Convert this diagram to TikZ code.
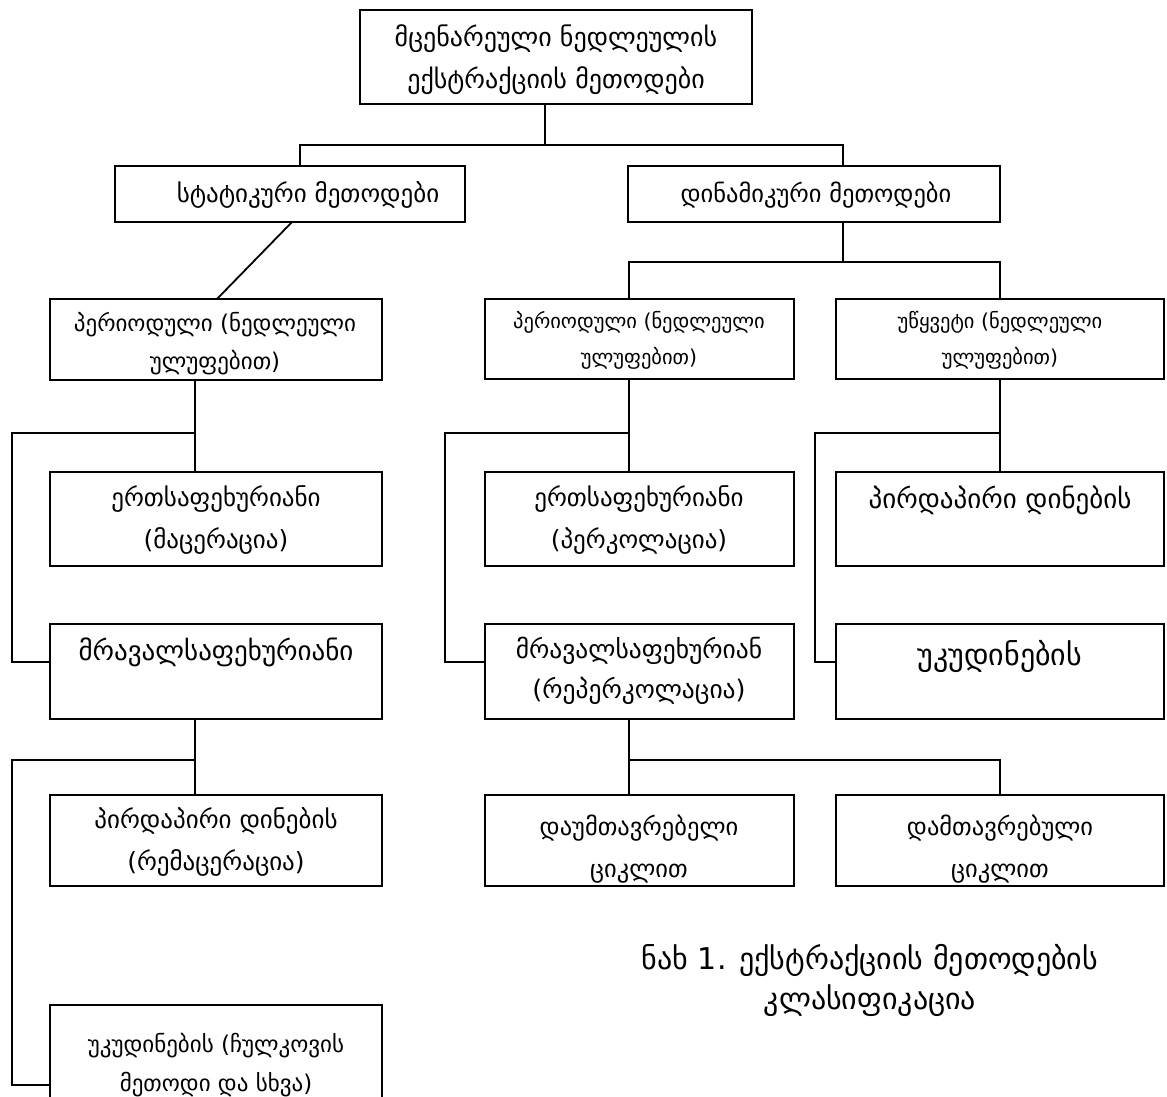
\documentclass[tikz,border=0pt]{standalone}
\usepackage{fontspec}
\setmainfont{DejaVu Sans}
\begin{document}
\begin{tikzpicture}[x=1pt,y=-1pt,
  box/.style={draw, line width=1.8pt, inner sep=0pt, outer sep=0pt},
  conn/.style={line width=1.8pt},
  lbl/.style={inner sep=0pt, anchor=base, font=\fontsize{#1}{#1}\selectfont},
  captxt/.style={inner sep=0pt, anchor=base, font=\fontsize{30}{34}\selectfont}]
\useasboundingbox (0,0) rectangle (1167,1097);
\clip (0,0) rectangle (1167,1097);
\newcommand\mkbox[5]{\node[box, minimum width={(#4-#2)*1pt}, minimum height={(#5-#3)*1pt}] (#1) at ({(#2+#4)/2},{(#3+#5)/2}) {};}
% boxes
\mkbox{top}{360}{10}{752}{104}
\mkbox{stat}{115}{166}{465}{222}
\mkbox{dyn}{628}{166}{1000}{222}
\mkbox{pa}{50}{299}{382}{380}
\mkbox{pb}{485}{299}{794}{379}
\mkbox{pc}{836}{299}{1164}{379}
\mkbox{ea}{50}{472}{382}{566}
\mkbox{eb}{485}{472}{794}{566}
\mkbox{ec}{836}{472}{1164}{566}
\mkbox{ma}{50}{624}{382}{719}
\mkbox{mb}{485}{624}{794}{719}
\mkbox{mc}{836}{624}{1164}{719}
\mkbox{da}{50}{795}{382}{886}
\mkbox{db}{485}{795}{794}{886}
\mkbox{dc}{836}{795}{1164}{886}
\mkbox{ua}{50}{1005}{382}{1102}
% texts
\node[lbl=26] (tt1) at (556,47) {მცენარეული ნედლეულის};
\node[lbl=26] (tt2) at (556,89) {ექსტრაქციის მეთოდები};
\node[lbl=25] (ts) at (308,202) {სტატიკური მეთოდები};
\node[lbl=24.5] (td) at (816,202) {დინამიკური მეთოდები};
\node[lbl=23] (tpa1) at (215,331) {პერიოდული (ნედლეული};
\node[lbl=23] (tpa2) at (215,369) {ულუფებით)};
\node[lbl=20.5] (tpb1) at (639,328) {პერიოდული (ნედლეული};
\node[lbl=20.5] (tpb2) at (639,364) {ულუფებით)};
\node[lbl=20.5] (tpc1) at (1000,328) {უწყვეტი (ნედლეული};
\node[lbl=20.5] (tpc2) at (1000,364) {ულუფებით)};
\node[lbl=25] (tea1) at (216,506) {ერთსაფეხურიანი};
\node[lbl=25] (tea2) at (216,548) {(მაცერაცია)};
\node[lbl=25] (teb1) at (639,506) {ერთსაფეხურიანი};
\node[lbl=25] (teb2) at (639,548) {(პერკოლაცია)};
\node[lbl=27] (tec1) at (1000,508) {პირდაპირი დინების};
\node[lbl=27] (tma1) at (216,660) {მრავალსაფეხურიანი};
\node[lbl=25.5] (tmb1) at (639,658) {მრავალსაფეხურიან};
\node[lbl=25.5] (tmb2) at (639,698) {(რეპერკოლაცია)};
\node[lbl=30] (tmc1) at (1000,665) {უკუდინების};
\node[lbl=25] (tda1) at (216,828) {პირდაპირი დინების};
\node[lbl=25] (tda2) at (216,870) {(რემაცერაცია)};
\node[lbl=24.5] (tdb1) at (639,835) {დაუმთავრებელი};
\node[lbl=24.5] (tdb2) at (639,877) {ციკლით};
\node[lbl=24.5] (tdc1) at (1000,835) {დამთავრებული};
\node[lbl=24.5] (tdc2) at (1000,877) {ციკლით};
\node[lbl=23] (tua1) at (216,1052) {უკუდინების (ჩულკოვის};
\node[lbl=23] (tua2) at (216,1091) {მეთოდი და სხვა)};
\node[captxt] (cap1) at (870,969) {ნახ 1. ექსტრაქციის მეთოდების};
\node[captxt] (cap2) at (870,1009) {კლასიფიკაცია};
% connector coordinates
\coordinate (j0) at (545,145);
\coordinate (js) at (300,145);
\coordinate (jd) at (843,145);
\coordinate (g1) at (292,0);
\coordinate (g2) at (217,0);
\coordinate (k1) at (843,262);
\coordinate (k2) at (629,262);
\coordinate (k3) at (1000,262);
\coordinate (la) at (195,433);
\coordinate (lw) at (12,433);
\coordinate (le) at (12,662);
\coordinate (ma1) at (445,433);
\coordinate (ma2) at (629,433);
\coordinate (me) at (445,662);
\coordinate (ra1) at (815,433);
\coordinate (ra2) at (1000,433);
\coordinate (re) at (815,662);
\coordinate (na) at (195,760);
\coordinate (nw) at (12,760);
\coordinate (ne) at (12,1085);
\coordinate (nb1) at (629,760);
\coordinate (nb2) at (1000,760);
% connectors
\draw[conn] (top.south -| j0) -- (j0);
\draw[conn] (stat.north -| js) -- (js) -- (jd) -- (dyn.north -| jd);
\draw[conn] (stat.south -| g1) -- (pa.north -| g2);
\draw[conn] (dyn.south -| k1) -- (k1);
\draw[conn] (pb.north -| k2) -- (k2) -- (k3) -- (pc.north -| k3);
\draw[conn] (pa.south -| la) -- (ea.north -| la);
\draw[conn] (la) -- (lw) -- (le) -- (ma.west |- le);
\draw[conn] (pb.south -| ma2) -- (eb.north -| ma2);
\draw[conn] (ma2) -- (ma1) -- (me) -- (mb.west |- me);
\draw[conn] (pc.south -| ra2) -- (ec.north -| ra2);
\draw[conn] (ra2) -- (ra1) -- (re) -- (mc.west |- re);
\draw[conn] (ma.south -| na) -- (da.north -| na);
\draw[conn] (na) -- (nw) -- (ne) -- (ua.west |- ne);
\draw[conn] (mb.south -| nb1) -- (db.north -| nb1);
\draw[conn] (nb1) -- (nb2) -- (dc.north -| nb2);
\end{tikzpicture}
\end{document}
